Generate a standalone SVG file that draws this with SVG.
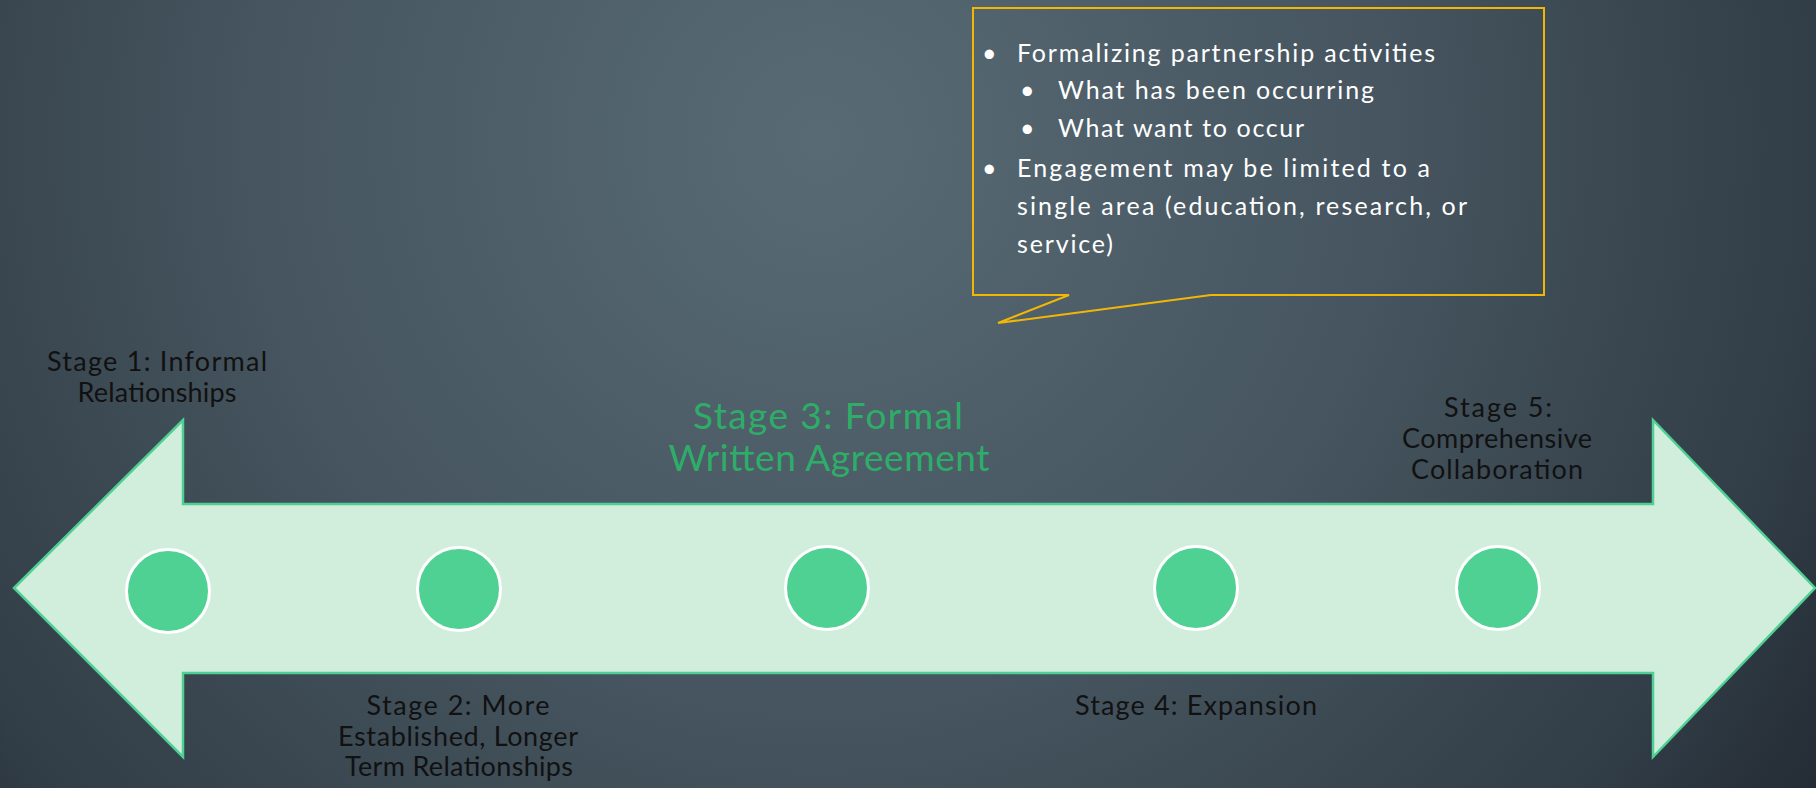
<svg xmlns="http://www.w3.org/2000/svg" width="1816" height="788" viewBox="0 0 1816 788">
  <defs>
    <radialGradient id="bg" cx="820" cy="140" r="1250" gradientUnits="userSpaceOnUse">
      <stop offset="0" stop-color="#586B75"/>
      <stop offset="0.45" stop-color="#46555F"/>
      <stop offset="0.8" stop-color="#313D47"/>
      <stop offset="1" stop-color="#20262E"/>
    </radialGradient>
    <style>
      .lbl { font-family: Lato, "Liberation Sans", sans-serif; font-size: 27px; fill: #111111; text-anchor: middle; }
      .s3 { font-family: Lato, "Liberation Sans", sans-serif; font-size: 37px; fill: #2EAD69; text-anchor: middle; }
      .co { font-family: Lato, "Liberation Sans", sans-serif; font-size: 25px; fill: #FFFFFF; }
      .dot { fill: #4FD194; stroke: #FFFFFF; stroke-width: 3; }
    </style>
  </defs>
  <rect x="0" y="0" width="1816" height="788" fill="url(#bg)"/>

  <g id="arrow">
    <path d="M14,588 L183,420 L183,504 L1653,504 L1653,420 L1815,588 L1653,757 L1653,673 L183,673 L183,757 Z" fill="#D1EEDC" stroke="#4ECF93" stroke-width="2.5"/>
  </g>

  <g id="stage1">
    <circle class="dot" cx="168" cy="591" r="41.5"/>
    <text class="lbl" x="157" y="371" textLength="220" lengthAdjust="spacing">Stage 1: Informal</text>
    <text class="lbl" x="157" y="402" textLength="159" lengthAdjust="spacing">Relationships</text>
  </g>
  <g id="stage2">
    <circle class="dot" cx="459" cy="589" r="41.5"/>
    <text class="lbl" x="458" y="715" textLength="183" lengthAdjust="spacing">Stage 2: More</text>
    <text class="lbl" x="458" y="746" textLength="240" lengthAdjust="spacing">Established, Longer</text>
    <text class="lbl" x="459" y="776" textLength="228" lengthAdjust="spacing">Term Relationships</text>
  </g>
  <g id="stage3">
    <circle class="dot" cx="827" cy="588" r="41.5"/>
    <text class="s3" x="828" y="429" textLength="270" lengthAdjust="spacing">Stage 3: Formal</text>
    <text class="s3" x="829" y="471" textLength="321" lengthAdjust="spacing">Written Agreement</text>
  </g>
  <g id="stage4">
    <circle class="dot" cx="1196" cy="588" r="41.5"/>
    <text class="lbl" x="1196" y="715" textLength="242" lengthAdjust="spacing">Stage 4: Expansion</text>
  </g>
  <g id="stage5">
    <circle class="dot" cx="1498" cy="588" r="41.5"/>
    <text class="lbl" x="1498" y="417" textLength="108" lengthAdjust="spacing">Stage 5:</text>
    <text class="lbl" x="1497" y="448" textLength="190" lengthAdjust="spacing">Comprehensive</text>
    <text class="lbl" x="1497" y="479" textLength="172" lengthAdjust="spacing">Collaboration</text>
  </g>

  <g id="callout">
    <path d="M973,8 H1544 V295 H1211 L998,323 L1069,295 H973 Z" fill="none" stroke="#F2B705" stroke-width="2"/>
    <text class="co" x="982" y="62">•</text>
    <text class="co" x="1017" y="62" textLength="418" lengthAdjust="spacing">Formalizing partnership activities</text>
    <text class="co" x="1020" y="99">•</text>
    <text class="co" x="1058" y="99" textLength="316" lengthAdjust="spacing">What has been occurring</text>
    <text class="co" x="1020" y="137">•</text>
    <text class="co" x="1058" y="137" textLength="246" lengthAdjust="spacing">What want to occur</text>
    <text class="co" x="982" y="177">•</text>
    <text class="co" x="1017" y="177" textLength="413" lengthAdjust="spacing">Engagement may be limited to a</text>
    <text class="co" x="1017" y="215" textLength="450" lengthAdjust="spacing">single area (education, research, or</text>
    <text class="co" x="1017" y="253" textLength="96" lengthAdjust="spacing">service)</text>
  </g>
</svg>
